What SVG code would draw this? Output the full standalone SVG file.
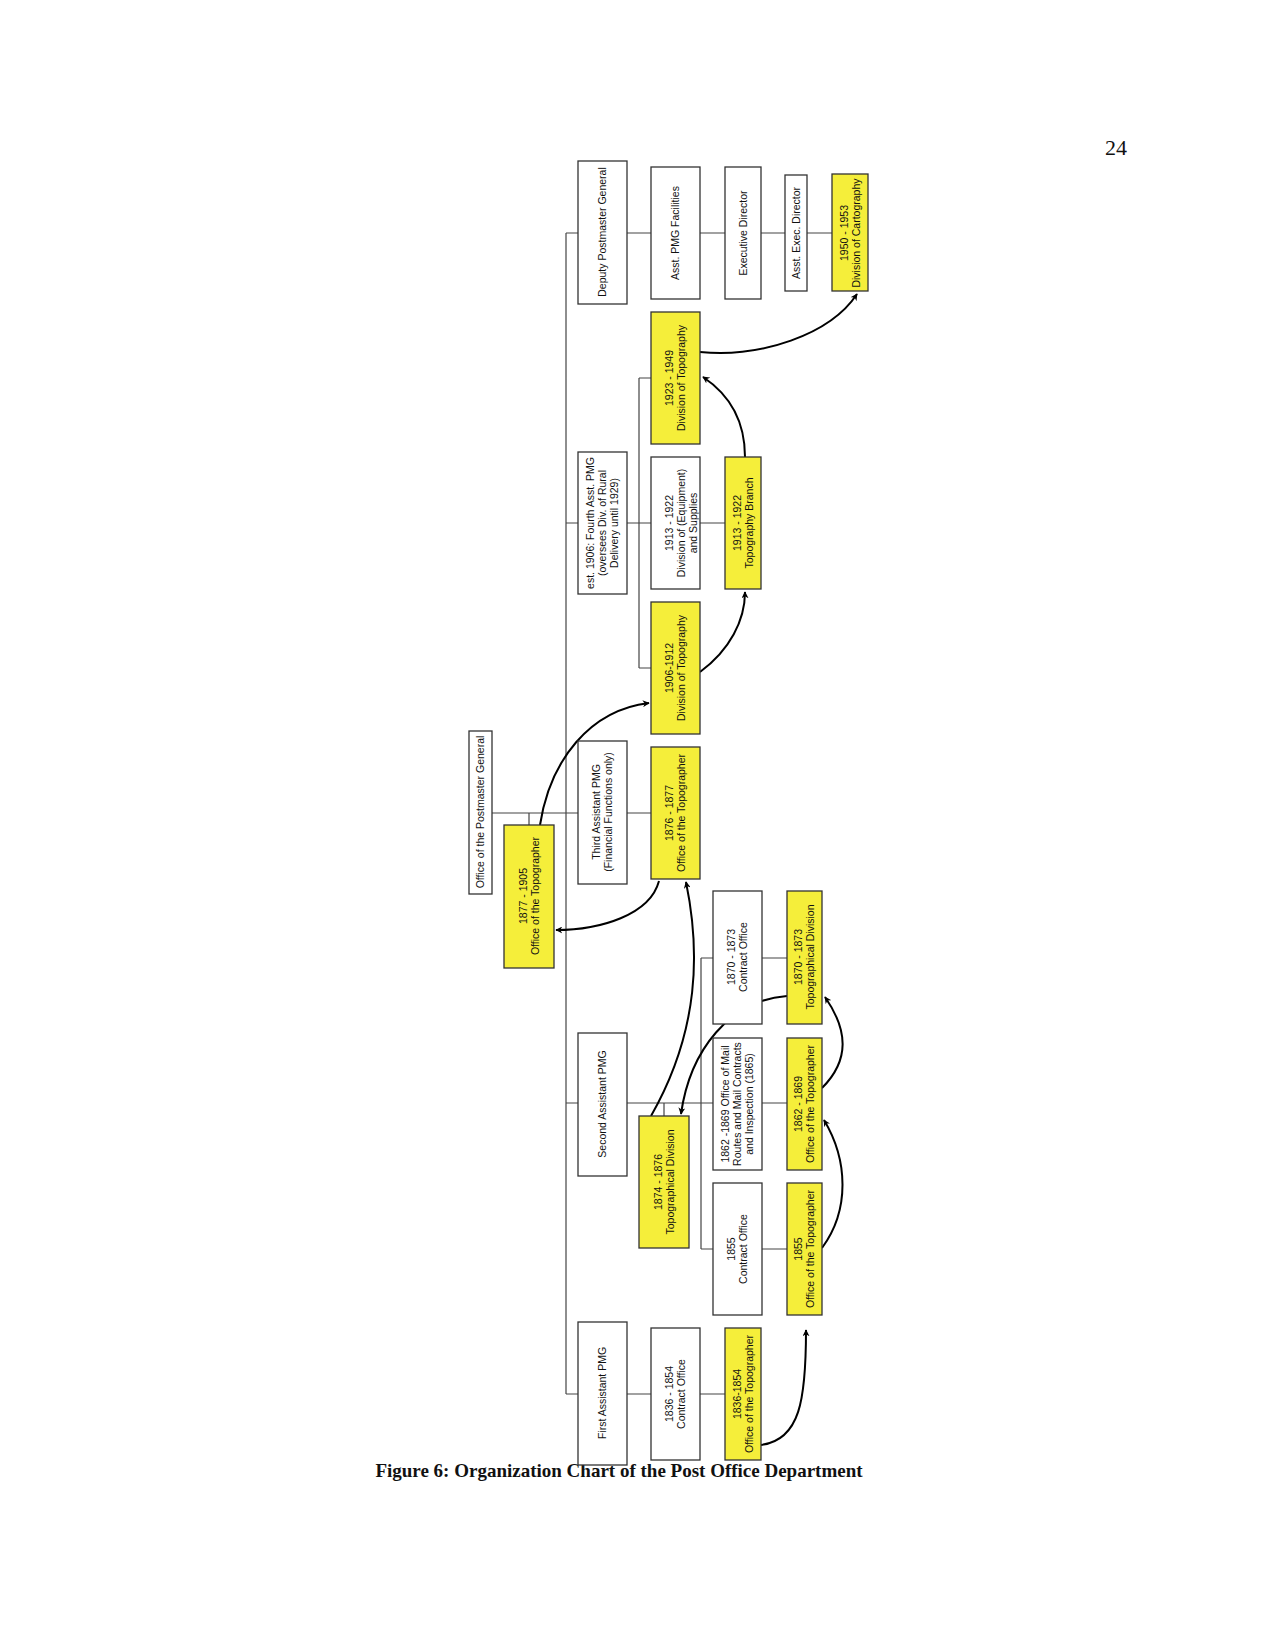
<svg xmlns="http://www.w3.org/2000/svg" width="1275" height="1650" viewBox="0 0 1275 1650">
<style>
.b{fill:#fff;stroke:#333;stroke-width:1.3}
.y{fill:#f5ee3a;stroke:#333;stroke-width:1.3}
.l{fill:none;stroke:#444;stroke-width:1.2}
.a{fill:none;stroke:#000;stroke-width:2;marker-end:url(#ah)}
text{font-family:"Liberation Sans",Arial,sans-serif;font-size:10.5px;fill:#111;text-anchor:middle}
</style>
<defs><marker id="ah" viewBox="0 0 10 10" refX="9" refY="5" markerWidth="7" markerHeight="7" orient="auto" markerUnits="userSpaceOnUse"><path d="M0,0 L10,5 L0,10 L3,5 z" fill="#000"/></marker></defs>
<rect width="1275" height="1650" fill="#fff"/>
<text x="1116" y="155" style="font-family:'Liberation Serif',serif;font-size:22px">24</text>
<text x="619" y="1477" style="font-family:'Liberation Serif',serif;font-size:19px;font-weight:bold">Figure 6: Organization Chart of the Post Office Department</text>
<g id="connectors">
<path class="l" d="M566,233V1394M566,233H832M566,523H725M492,813H651M529,813V825M566,1103H787M664,1103V1116M566,1394H725M639,378V668M639,378H651M639,668H651M701,958V1249M701,958H787M701,1249H787"/>
<path class="a" d="M761,1445C800,1440 806,1400 806,1330"/>
<path class="a" d="M822,1248C850,1210 848,1160 824,1120"/>
<path class="a" d="M822,1088C850,1060 848,1030 825,997"/>
<path class="a" d="M787,996C730,1000 690,1050 681,1114"/>
<path class="a" d="M651,1116C700,1030 700,950 686,882"/>
<path class="a" d="M659,881C650,915 600,930 556,930"/>
<path class="a" d="M540,825C550,760 590,710 649,703"/>
<path class="a" d="M700,672C730,650 745,620 745,592"/>
<path class="a" d="M745,457C745,420 730,395 703,377"/>
<path class="a" d="M700,352C760,358 830,335 857,294"/>
</g>
<g id="n-deputy"><rect class="b" x="578" y="161" width="49" height="143"/><text transform="rotate(-90 602 232)" x="602" y="236">Deputy Postmaster General</text></g>
<g id="n-asstfac"><rect class="b" x="651" y="167" width="49" height="132"/><text transform="rotate(-90 675 233)" x="675" y="237">Asst. PMG Facilities</text></g>
<g id="n-execdir"><rect class="b" x="725" y="167" width="36" height="132"/><text transform="rotate(-90 743 233)" x="743" y="237">Executive Director</text></g>
<g id="n-asstexec"><rect class="b" x="785" y="175" width="22" height="116"/><text transform="rotate(-90 796 233)" x="796" y="237">Asst. Exec. Director</text></g>
<g id="n-carto"><rect class="y" x="832" y="174" width="36" height="117"/><text transform="rotate(-90 850 233)" x="850" y="231">1950 - 1953<tspan x="850" dy="12">Division of Cartography</tspan></text></g>
<g id="n-topo1923"><rect class="y" x="651" y="312" width="49" height="132"/><text transform="rotate(-90 675 378)" x="675" y="376">1923 - 1949<tspan x="675" dy="12">Division of Topography</tspan></text></g>
<g id="n-fourth"><rect class="b" x="578" y="452" width="49" height="142"/><text transform="rotate(-90 602 523)" x="602" y="515">est. 1906: Fourth Asst. PMG<tspan x="602" dy="12">(oversees Div. of Rural</tspan><tspan x="602" dy="12">Delivery until 1929)</tspan></text></g>
<g id="n-equip"><rect class="b" x="651" y="457" width="49" height="132"/><text transform="rotate(-90 675 523)" x="675" y="521">1913 - 1922<tspan x="675" dy="12">Division of (Equipment)</tspan><tspan x="675" dy="12">and Supplies</tspan></text></g>
<g id="n-branch"><rect class="y" x="725" y="457" width="36" height="132"/><text transform="rotate(-90 743 523)" x="743" y="521">1913 - 1922<tspan x="743" dy="12">Topography Branch</tspan></text></g>
<g id="n-topo1906"><rect class="y" x="651" y="602" width="49" height="132"/><text transform="rotate(-90 675 668)" x="675" y="666">1906-1912<tspan x="675" dy="12">Division of Topography</tspan></text></g>
<g id="n-pmg"><rect class="b" x="469" y="731" width="23" height="163"/><text transform="rotate(-90 480 812)" x="480" y="816">Office of the Postmaster General</text></g>
<g id="n-topo1877"><rect class="y" x="504" y="825" width="50" height="143"/><text transform="rotate(-90 529 896)" x="529" y="894">1877 - 1905<tspan x="529" dy="12">Office of the Topographer</tspan></text></g>
<g id="n-third"><rect class="b" x="578" y="741" width="49" height="143"/><text transform="rotate(-90 602 812)" x="602" y="810">Third Assistant PMG<tspan x="602" dy="12">(Financial Functions only)</tspan></text></g>
<g id="n-topo1876"><rect class="y" x="651" y="747" width="49" height="132"/><text transform="rotate(-90 675 813)" x="675" y="811">1876 - 1877<tspan x="675" dy="12">Office of the Topographer</tspan></text></g>
<g id="n-contract1870"><rect class="b" x="713" y="891" width="49" height="133"/><text transform="rotate(-90 737 957)" x="737" y="955">1870 - 1873<tspan x="737" dy="12">Contract Office</tspan></text></g>
<g id="n-topodiv1870"><rect class="y" x="787" y="891" width="35" height="133"/><text transform="rotate(-90 804 957)" x="804" y="955">1870 - 1873<tspan x="804" dy="12">Topographical Division</tspan></text></g>
<g id="n-second"><rect class="b" x="578" y="1033" width="49" height="143"/><text transform="rotate(-90 602 1104)" x="602" y="1108">Second Assistant PMG</text></g>
<g id="n-routes"><rect class="b" x="713" y="1038" width="49" height="132"/><text transform="rotate(-90 737 1104)" x="737" y="1096">1862 -1869 Office of Mail<tspan x="737" dy="12">Routes and Mail Contracts</tspan><tspan x="737" dy="12">and Inspection (1865)</tspan></text></g>
<g id="n-topo1862"><rect class="y" x="787" y="1038" width="35" height="132"/><text transform="rotate(-90 804 1104)" x="804" y="1102">1862 - 1869<tspan x="804" dy="12">Office of the Topographer</tspan></text></g>
<g id="n-topodiv1874"><rect class="y" x="639" y="1116" width="50" height="132"/><text transform="rotate(-90 664 1182)" x="664" y="1180">1874 - 1876<tspan x="664" dy="12">Topographical Division</tspan></text></g>
<g id="n-contract1855"><rect class="b" x="713" y="1183" width="49" height="132"/><text transform="rotate(-90 737 1249)" x="737" y="1247">1855<tspan x="737" dy="12">Contract Office</tspan></text></g>
<g id="n-topo1855"><rect class="y" x="787" y="1183" width="35" height="132"/><text transform="rotate(-90 804 1249)" x="804" y="1247">1855<tspan x="804" dy="12">Office of the Topographer</tspan></text></g>
<g id="n-first"><rect class="b" x="578" y="1322" width="49" height="143"/><text transform="rotate(-90 602 1393)" x="602" y="1397">First Assistant PMG</text></g>
<g id="n-contract1836"><rect class="b" x="651" y="1328" width="49" height="132"/><text transform="rotate(-90 675 1394)" x="675" y="1392">1836 - 1854<tspan x="675" dy="12">Contract Office</tspan></text></g>
<g id="n-topo1836"><rect class="y" x="725" y="1328" width="36" height="132"/><text transform="rotate(-90 743 1394)" x="743" y="1392">1836-1854<tspan x="743" dy="12">Office of the Topographer</tspan></text></g>
</svg>
